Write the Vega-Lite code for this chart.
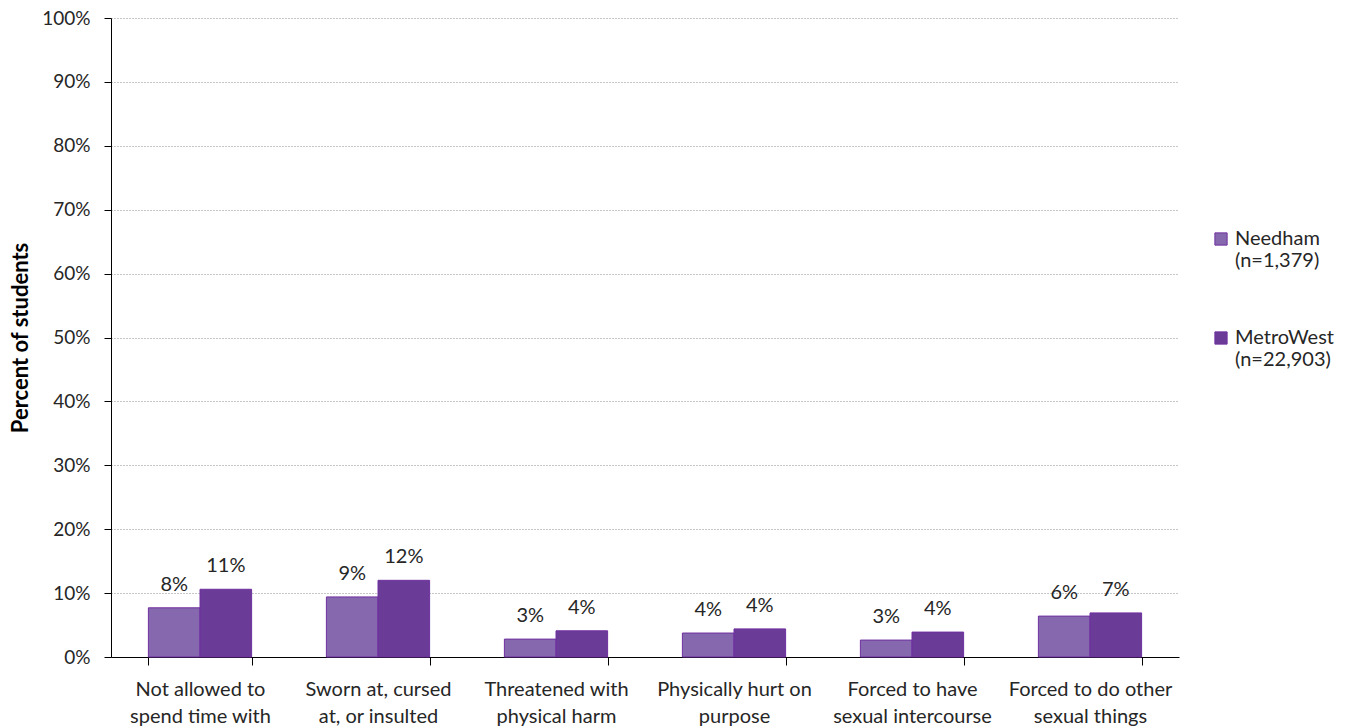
{
  "$schema": "https://vega.github.io/schema/vega-lite/v6.json",
  "width": 1068,
  "height": 639,
  "autosize": {"type": "none"},
  "padding": {"left": 111, "top": 18, "right": 170, "bottom": 69},
  "background": "white",
  "config": {
    "font": "Lato",
    "view": {"stroke": null},
    "axis": {"labelFont": "Lato", "titleFont": "Lato", "labelColor": "#404040", "titleColor": "#404040"}
  },
  "data": {
    "values": [
      {"cat": "Not allowed to\nspend time with", "series": "Needham\n(n=1,379)", "v": 0.077},
      {"cat": "Not allowed to\nspend time with", "series": "MetroWest\n(n=22,903)", "v": 0.106},
      {"cat": "Sworn at, cursed\nat, or insulted", "series": "Needham\n(n=1,379)", "v": 0.094},
      {"cat": "Sworn at, cursed\nat, or insulted", "series": "MetroWest\n(n=22,903)", "v": 0.120},
      {"cat": "Threatened with\nphysical harm", "series": "Needham\n(n=1,379)", "v": 0.028},
      {"cat": "Threatened with\nphysical harm", "series": "MetroWest\n(n=22,903)", "v": 0.041},
      {"cat": "Physically hurt on\npurpose", "series": "Needham\n(n=1,379)", "v": 0.0375},
      {"cat": "Physically hurt on\npurpose", "series": "MetroWest\n(n=22,903)", "v": 0.044},
      {"cat": "Forced to have\nsexual intercourse", "series": "Needham\n(n=1,379)", "v": 0.0265},
      {"cat": "Forced to have\nsexual intercourse", "series": "MetroWest\n(n=22,903)", "v": 0.039},
      {"cat": "Forced to do other\nsexual things", "series": "Needham\n(n=1,379)", "v": 0.064},
      {"cat": "Forced to do other\nsexual things", "series": "MetroWest\n(n=22,903)", "v": 0.069}
    ]
  },
  "encoding": {
    "x": {
      "field": "cat", "type": "nominal", "sort": null,
      "scale": {"paddingInner": 0.42, "paddingOuter": 0.21},
      "axis": {
        "title": null, "labelAngle": 0, "labelFontSize": 20, "labelColor": "#262626",
        "labelExpr": "split(datum.label, '\\n')", "labelLineHeight": 27,
        "labelPadding": 14, "tickBand": "extent", "tickSize": 8,
        "tickColor": "#000000", "domainColor": "#000000", "labelBaseline": "top"
      }
    },
    "y": {
      "field": "v", "type": "quantitative",
      "scale": {"domain": [0, 1]},
      "axis": {
        "title": "Percent of students", "titleFontSize": 22, "titleFontWeight": "bold",
        "titleColor": "#000000", "titlePadding": 9,
        "format": ".0%", "values": [0,0.1,0.2,0.3,0.4,0.5,0.6,0.7,0.8,0.9,1],
        "labelOverlap": false,
        "labelFontSize": 19, "labelColor": "#262626", "labelPadding": 14,
        "tickSize": 7, "tickColor": "#000000", "domainColor": "#000000",
        "gridColor": "#8c8c8c", "gridDash": [1, 2], "gridWidth": 1
      }
    },
    "xOffset": {"field": "series", "type": "nominal", "sort": null}
  },
  "layer": [
    {
      "mark": {"type": "bar", "stroke": "#7030A0", "strokeWidth": 1},
      "encoding": {
        "color": {
          "field": "series", "type": "nominal", "sort": null,
          "scale": {"range": ["#8668AE", "#6A3B97"]},
          "legend": {
            "title": null, "orient": "none", "legendX": 1100, "legendY": 211,
            "labelExpr": "split(datum.label, '\\n')",
            "labelFontSize": 20, "labelColor": "#262626", "labelFont": "Lato",
            "labelLineHeight": 24, "rowPadding": 57,
            "symbolType": "square", "symbolSize": 150, "symbolStrokeColor": "#7030A0", "symbolStrokeWidth": 1
          }
        }
      }
    },
    {
      "mark": {"type": "text", "baseline": "bottom", "dy": -13, "fontSize": 20, "color": "#262626"},
      "encoding": {
        "text": {"field": "v", "type": "quantitative", "format": ".0%"}
      }
    }
  ]
}
